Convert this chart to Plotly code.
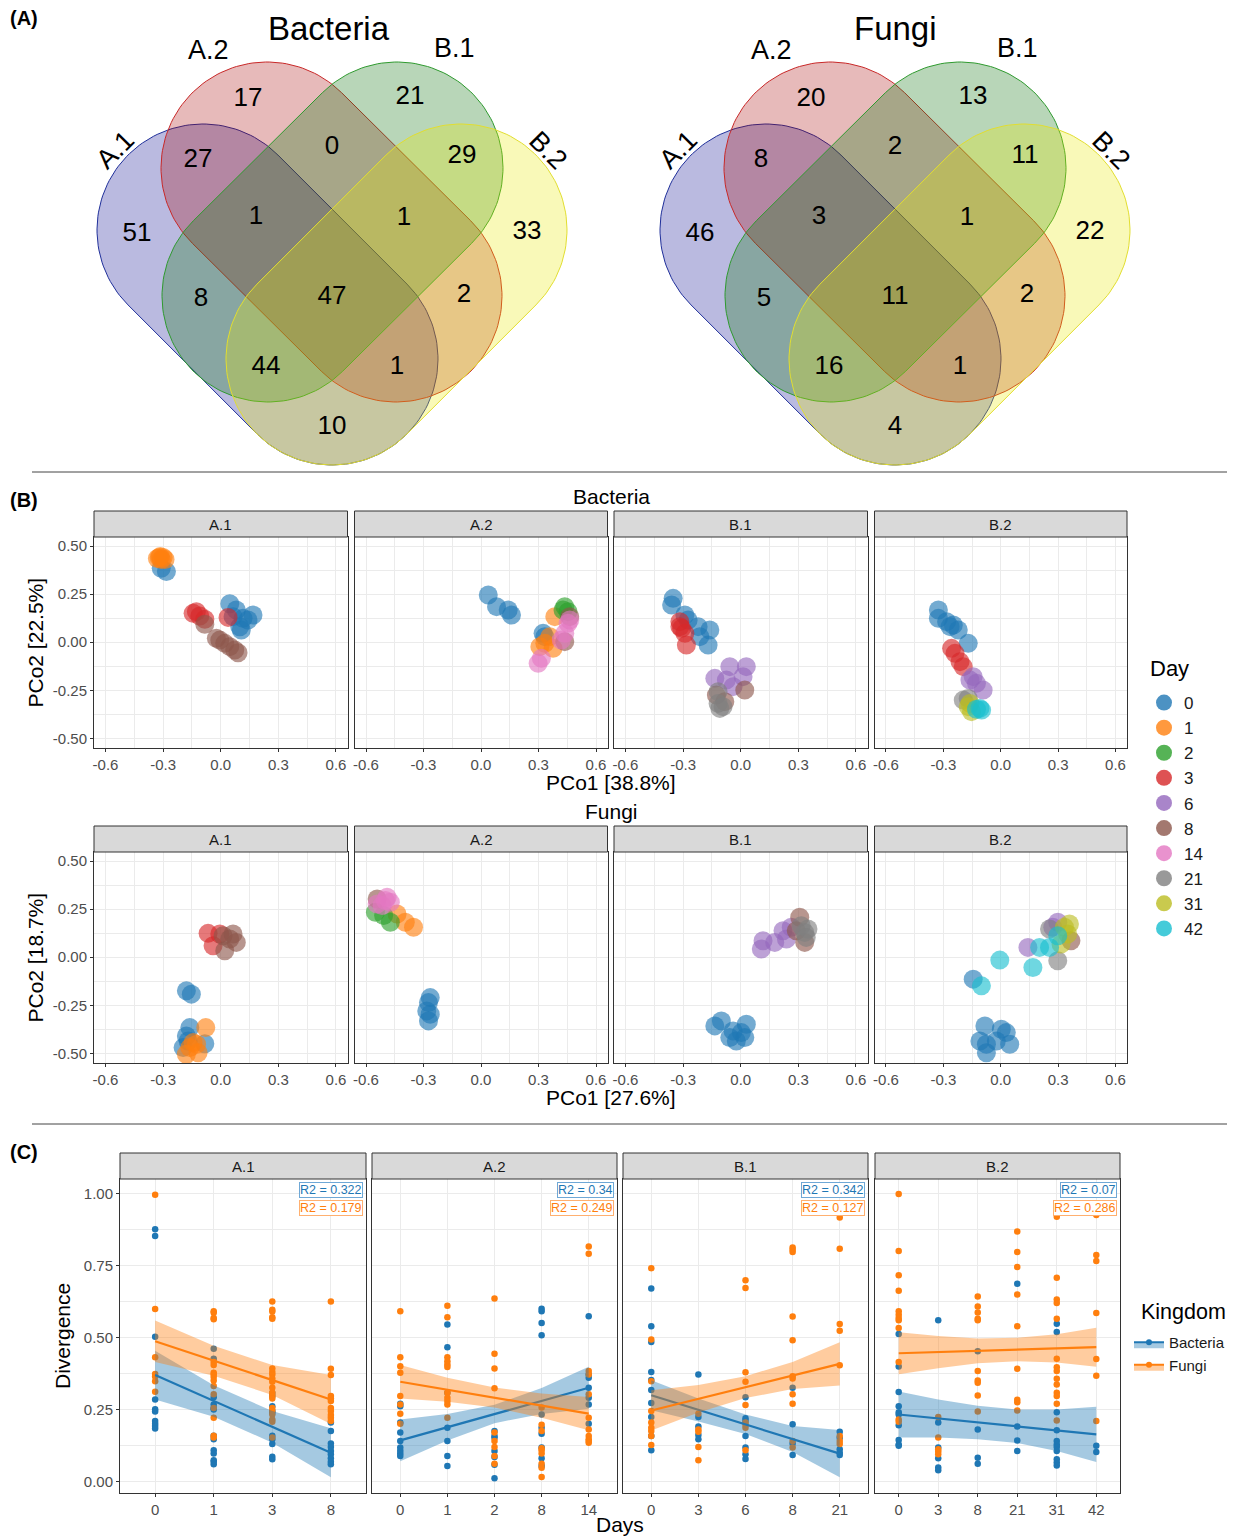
import numpy as np
import plotly.graph_objects as go

W, H = 1242, 1537
FONT = "Liberation Sans, Arial, sans-serif"

# ======================= DATA =======================
# ---- (A) Venn counts ----
venn_regions = ["A.2", "B.1", "A.1&A.2", "A.2&B.1", "B.1&B.2", "A.1", "A.1&A.2&B.1",
                "A.2&B.1&B.2", "B.2", "A.1&B.1", "A.1&A.2&B.1&B.2", "A.2&B.2",
                "A.1&B.1&B.2", "A.1&A.2&B.2", "A.1&B.2"]
venn_bacteria = [17, 21, 27, 0, 29, 51, 1, 1, 33, 8, 47, 2, 44, 1, 10]
venn_fungi = [20, 13, 8, 2, 11, 46, 3, 1, 22, 5, 11, 2, 16, 1, 4]
venn_sets = ["A.1", "A.2", "B.1", "B.2"]

# ---- (B) PCoA ----
sites = ["A.1", "A.2", "B.1", "B.2"]
day_levels = [0, 1, 2, 3, 6, 8, 14, 21, 31, 42]
pco_xticks = [-0.6, -0.3, 0.0, 0.3, 0.6]
pco_xtick_text = ["-0.6", "-0.3", "0.0", "0.3", "0.6"]
pco_yticks = [-0.5, -0.25, 0.0, 0.25, 0.5]
pco_ytick_text = ["-0.50", "-0.25", "0.00", "0.25", "0.50"]
bac_axis_labels = ["PCo1 [38.8%]", "PCo2 [22.5%]"]
fun_axis_labels = ["PCo1 [27.6%]", "PCo2 [18.7%]"]

bac_A1 = {0: ([-0.31, -0.283, 0.047, 0.081, 0.168, 0.116, 0.099, 0.107, 0.064, 0.142],
              [0.384, 0.367, 0.20, 0.167, 0.141, 0.124, 0.08, 0.063, 0.133, 0.115]),
          1: ([-0.32, -0.30, -0.33, -0.31, -0.29, -0.315], [0.44, 0.44, 0.435, 0.43, 0.43, 0.445]),
          3: ([-0.127, -0.109, -0.083, 0.038, -0.144], [0.159, 0.136, 0.119, 0.129, 0.15]),
          8: ([-0.083, -0.005, 0.021, 0.047, 0.073, 0.09, -0.023],
              [0.093, 0.011, -0.006, -0.023, -0.041, -0.055, 0.02])}
bac_A2 = {0: ([0.038, 0.081, 0.142, 0.159, 0.333, 0.324], [0.245, 0.185, 0.167, 0.141, 0.029, 0.046]),
          1: ([0.385, 0.359, 0.307, 0.333, 0.376], [0.133, 0.029, -0.023, -0.006, -0.032]),
          2: ([0.437, 0.454, 0.428], [0.185, 0.159, 0.167]),
          8: ([0.463, 0.437], [0.133, 0.003]),
          14: ([0.454, 0.437, 0.419, 0.315, 0.298, 0.463], [0.098, 0.046, 0.011, -0.084, -0.11, 0.115])}
bac_B1 = {0: ([-0.352, -0.36, -0.291, -0.222, -0.161, -0.17, -0.213, -0.274],
              [0.228, 0.193, 0.141, 0.081, 0.063, -0.015, 0.029, 0.115]),
          3: ([-0.317, -0.308, -0.291, -0.283, -0.317], [0.107, 0.072, 0.046, -0.015, 0.081]),
          6: ([-0.135, -0.057, 0.029, 0.012, -0.075, -0.04], [-0.188, -0.127, -0.127, -0.179, -0.197, -0.231]),
          8: ([0.021, -0.127, -0.083], [-0.249, -0.275, -0.309]),
          21: ([-0.118, -0.118, -0.109, -0.092], [-0.257, -0.318, -0.344, -0.335])}
bac_B2 = {0: ([-0.326, -0.326, -0.283, -0.248, -0.222, -0.17, -0.265],
              [0.167, 0.124, 0.107, 0.089, 0.063, -0.006, 0.081]),
          3: ([-0.257, -0.239, -0.213, -0.196], [-0.032, -0.058, -0.101, -0.127]),
          6: ([-0.144, -0.127, -0.092, -0.161], [-0.179, -0.214, -0.249, -0.197]),
          21: ([-0.196, -0.17], [-0.301, -0.292]),
          31: ([-0.161, -0.153, -0.17], [-0.318, -0.361, -0.335]),
          42: ([-0.109, -0.1, -0.127], [-0.344, -0.353, -0.349])}
fun_A1 = {0: ([-0.179, -0.153, -0.161, -0.179, -0.196, -0.083, -0.17],
              [-0.175, -0.192, -0.366, -0.41, -0.47, -0.45, -0.436]),
          1: ([-0.078, -0.144, -0.126, -0.179, -0.118, -0.161], [-0.366, -0.444, -0.453, -0.505, -0.497, -0.47]),
          3: ([-0.066, -0.04, -0.005], [0.124, 0.06, 0.121]),
          8: ([0.012, 0.047, 0.064, 0.021, 0.081], [0.112, 0.095, 0.121, 0.034, 0.077])}
fun_A2 = {0: ([-0.274, -0.283, -0.265, -0.274, -0.265], [-0.236, -0.279, -0.297, -0.331, -0.21]),
          1: ([-0.438, -0.395, -0.352], [0.225, 0.182, 0.156]),
          2: ([-0.551, -0.508, -0.473], [0.234, 0.217, 0.182]),
          8: ([-0.542], [0.303]),
          14: ([-0.542, -0.499, -0.473, -0.516, -0.49], [0.277, 0.295, 0.286, 0.269, 0.312])}
fun_B1 = {0: ([-0.101, -0.135, -0.057, -0.023, 0.021, 0.029, 0.003, -0.04],
              [-0.331, -0.357, -0.418, -0.436, -0.418, -0.349, -0.392, -0.383]),
          6: ([0.107, 0.116, 0.177, 0.22, 0.238, 0.263], [0.043, 0.086, 0.077, 0.138, 0.095, 0.156]),
          8: ([0.307, 0.333, 0.289], [0.208, 0.077, 0.138]),
          21: ([0.333, 0.35, 0.315, 0.341], [0.129, 0.147, 0.164, 0.103])}
fun_B2 = {0: ([-0.144, -0.083, 0.003, 0.029, -0.075, -0.109, -0.023, 0.047, -0.075],
              [-0.114, -0.357, -0.375, -0.392, -0.453, -0.436, -0.436, -0.453, -0.497]),
          6: ([0.142, 0.272, 0.298], [0.051, 0.156, 0.182]),
          8: ([0.367], [0.086]),
          21: ([0.298, 0.255], [-0.018, 0.147]),
          31: ([0.333, 0.35, 0.315, 0.359], [0.156, 0.121, 0.069, 0.173]),
          42: ([-0.101, -0.005, 0.168, 0.203, 0.255, 0.298], [-0.149, -0.015, -0.053, 0.051, 0.051, 0.112])}

# ---- (C) Divergence ----
div_cats_A1 = ["0", "1", "3", "8"]
div_cats_A2 = ["0", "1", "2", "8", "14"]
div_cats_B1 = ["0", "3", "6", "8", "21"]
div_cats_B2 = ["0", "3", "8", "21", "31", "42"]
div_yticks = [0.0, 0.25, 0.5, 0.75, 1.0]
div_ytick_text = ["0.00", "0.25", "0.50", "0.75", "1.00"]

divA1_bac = {"0": [0.877, 0.854, 0.503, 0.285, 0.251, 0.243, 0.21, 0.201, 0.193, 0.184],
             "1": [0.462, 0.427, 0.293, 0.268, 0.256, 0.25, 0.159, 0.147, 0.109, 0.097, 0.074, 0.069, 0.06],
             "3": [0.308, 0.297, 0.262, 0.245, 0.239, 0.159, 0.147, 0.13, 0.086, 0.077],
             "8": [0.205, 0.176, 0.132, 0.12, 0.106, 0.095, 0.081, 0.069, 0.06]}
divA1_fun = {"0": [0.997, 0.6, 0.432, 0.374, 0.365, 0.349, 0.312],
             "1": [0.592, 0.587, 0.569, 0.564, 0.416, 0.405, 0.378, 0.372, 0.363, 0.351, 0.332, 0.303,
                   0.256, 0.222, 0.159, 0.153],
             "3": [0.626, 0.597, 0.591, 0.571, 0.566, 0.393, 0.381, 0.372, 0.358, 0.347, 0.326, 0.309,
                   0.297, 0.289, 0.256, 0.245, 0.233, 0.216, 0.208, 0.153],
             "8": [0.626, 0.392, 0.37, 0.297, 0.289, 0.28, 0.256, 0.245, 0.231, 0.222, 0.21]}
divA2_bac = {"0": [0.27, 0.262, 0.205, 0.17, 0.141, 0.118, 0.107, 0.097, 0.089],
             "1": [0.546, 0.467, 0.309, 0.187, 0.141, 0.089, 0.054],
             "2": [0.176, 0.158, 0.152, 0.106, 0.085, 0.058, 0.011],
             "8": [0.601, 0.592, 0.551, 0.509, 0.233, 0.187, 0.166, 0.118, 0.081, 0.054],
             "14": [0.575, 0.372, 0.361, 0.326, 0.291, 0.268, 0.201]}
divA2_fun = {"0": [0.592, 0.432, 0.401, 0.378, 0.297, 0.268, 0.236, 0.201],
             "1": [0.611, 0.571, 0.432, 0.418, 0.407, 0.398, 0.309, 0.291, 0.28, 0.268, 0.222],
             "2": [0.636, 0.444, 0.393, 0.324, 0.17, 0.141, 0.12, 0.089, 0.062],
             "8": [0.257, 0.197, 0.176, 0.116, 0.109, 0.097, 0.062, 0.048, 0.016],
             "14": [0.817, 0.792, 0.384, 0.372, 0.303, 0.222, 0.181, 0.158, 0.147, 0.141, 0.135]}
divB1_bac = {"0": [0.671, 0.54, 0.485, 0.381, 0.353, 0.318, 0.273, 0.224, 0.158, 0.109],
             "3": [0.372, 0.224, 0.191, 0.162, 0.147],
             "6": [0.293, 0.22, 0.211, 0.158, 0.118, 0.095, 0.078],
             "8": [0.326, 0.199, 0.132, 0.092],
             "21": [0.173, 0.152, 0.112, 0.1, 0.092]}
divB1_fun = {"0": [0.742, 0.494, 0.349, 0.245, 0.205, 0.187, 0.176, 0.158, 0.127],
             "3": [0.236, 0.181, 0.173, 0.12, 0.074],
             "6": [0.7, 0.673, 0.38, 0.347, 0.266, 0.205, 0.197, 0.187, 0.109],
             "8": [0.814, 0.806, 0.798, 0.574, 0.491, 0.366, 0.358, 0.303, 0.27, 0.141, 0.118],
             "21": [0.918, 0.809, 0.548, 0.524, 0.404, 0.158, 0.141, 0.13]}
divB2_bac = {"0": [0.513, 0.4, 0.311, 0.262, 0.241, 0.233, 0.196, 0.144, 0.129, 0.124],
             "3": [0.561, 0.205, 0.118, 0.081, 0.049, 0.039],
             "8": [0.453, 0.181, 0.083, 0.062],
             "21": [0.688, 0.191, 0.143, 0.106],
             "31": [0.549, 0.52, 0.241, 0.178, 0.141, 0.129, 0.12, 0.106, 0.077, 0.066, 0.056],
             "42": [0.124, 0.103]}
divB2_fun = {"0": [1.0, 0.802, 0.717, 0.663, 0.592, 0.58, 0.569, 0.561, 0.534, 0.416, 0.216, 0.208],
             "3": [0.224, 0.153, 0.112, 0.104, 0.095],
             "8": [0.643, 0.609, 0.588, 0.566, 0.561, 0.384, 0.351, 0.343, 0.299, 0.243],
             "21": [0.869, 0.798, 0.746, 0.65, 0.54, 0.392, 0.284, 0.276, 0.247],
             "31": [0.921, 0.709, 0.633, 0.621, 0.566, 0.427, 0.397, 0.384, 0.357, 0.337, 0.309, 0.297,
                    0.27, 0.212],
             "42": [0.927, 0.788, 0.767, 0.586, 0.426, 0.368, 0.21]}

# fitted lines (value at first and last day) and confidence band per day
line_bac = [(0.37, 0.10), (0.143, 0.326), (0.30, 0.097), (0.233, 0.164)]
line_fun = [(0.488, 0.285), (0.347, 0.236), (0.247, 0.409), (0.446, 0.467)]
band_bac_hi = [[0.455, 0.335, 0.245, 0.185], [0.216, 0.235, 0.267, 0.325, 0.399],
               [0.352, 0.289, 0.233, 0.193, 0.179], [0.313, 0.285, 0.263, 0.25, 0.25, 0.26]]
band_bac_lo = [[0.285, 0.225, 0.135, 0.015], [0.07, 0.143, 0.203, 0.235, 0.253],
               [0.248, 0.209, 0.165, 0.103, 0.015], [0.153, 0.153, 0.147, 0.134, 0.106, 0.068]]
band_fun_hi = [[0.56, 0.472, 0.405, 0.37], [0.405, 0.361, 0.327, 0.306, 0.294],
               [0.317, 0.336, 0.366, 0.416, 0.484], [0.519, 0.506, 0.497, 0.5, 0.512, 0.535]]
band_fun_lo = [[0.416, 0.368, 0.301, 0.2], [0.289, 0.277, 0.257, 0.222, 0.178],
               [0.177, 0.24, 0.29, 0.322, 0.334], [0.373, 0.394, 0.411, 0.418, 0.414, 0.399]]
r2_bac = ["0.322", "0.34", "0.342", "0.07"]
r2_fun = ["0.179", "0.249", "0.127", "0.286"]

# ======================= STYLE / LAYOUT =======================
day_colors = ["#1f77b4", "#ff7f0e", "#2ca02c", "#d62728", "#9467bd",
              "#8c564b", "#e377c2", "#7f7f7f", "#bcbd22", "#17becf"]
BLUE, ORANGE = "#1f77b4", "#ff7f0e"
BLUE_F, ORANGE_F = "rgba(31,119,180,0.4)", "rgba(255,127,14,0.4)"
GRID = "#EBEBEB"
BORDER = "#333333"
TICKC = "#4D4D4D"
TICK_FS = 15
TITLE_FS = 21

fig = go.Figure()
annotations = []
shapes = []
layout = dict(width=W, height=H, margin=dict(l=0, r=0, t=0, b=0),
              paper_bgcolor="white", plot_bgcolor="white",
              font=dict(family=FONT, color="black"), showlegend=True)


def px(x):
    return x / W


def py(y):
    return 1 - y / H


def ann(text, x, y, size, color="black", xanchor="center", yanchor="middle", **kw):
    d = dict(text=text, x=px(x), y=py(y), xref="paper", yref="paper", showarrow=False,
             font=dict(size=size, family=FONT, color=color), xanchor=xanchor, yanchor=yanchor)
    d.update(kw)
    annotations.append(d)


# ---------------- (A) Venn ----------------
VENN_H = 475
layout["xaxis"] = dict(domain=[0, 1], range=[0, W], visible=False, fixedrange=True)
layout["yaxis"] = dict(domain=[1 - VENN_H / H, 1], range=[VENN_H, 0], visible=False, fixedrange=True)

venn_centers = {"Bacteria": 332, "Fungi": 895}
stadium_caps = {"A.1": ((-129, 230), (0, 359)), "A.2": ((-65, 168), (64, 296)),
                "B.1": ((65, 168), (-64, 296)), "B.2": ((129, 230), (0, 359))}
CAP_R = 106
venn_fill = {"A.1": "rgba(0,0,140,0.27)", "A.2": "rgba(165,0,0,0.27)",
             "B.1": "rgba(20,120,20,0.30)", "B.2": "rgba(232,232,0,0.28)"}
venn_line = {"A.1": "#1f2f9a", "A.2": "#c82828", "B.1": "#2f9a2f", "B.2": "#e2de30"}
region_offsets = {"A.2": (-84, 99), "B.1": (78, 97), "A.1&A.2": (-134, 160), "A.2&B.1": (0, 147),
                  "B.1&B.2": (130, 156), "A.1": (-195, 234), "A.1&A.2&B.1": (-76, 217),
                  "A.2&B.1&B.2": (72, 218), "B.2": (195, 232), "A.1&B.1": (-131, 299),
                  "A.1&A.2&B.1&B.2": (0, 297), "A.2&B.2": (132, 295), "A.1&B.1&B.2": (-66, 367),
                  "A.1&A.2&B.2": (65, 367), "A.1&B.2": (0, 427)}
set_label_pos = {"A.1": (-217, 150, -45), "A.2": (-124, 50, 0), "B.1": (122, 48, 0), "B.2": (216, 150, 45)}


def stadium(p1, p2, r, n=80):
    p1 = np.array(p1, float)
    p2 = np.array(p2, float)
    d = p2 - p1
    th = np.arctan2(d[1], d[0])
    a1 = np.linspace(th - np.pi / 2, th + np.pi / 2, n)
    a2 = np.linspace(th + np.pi / 2, th + 3 * np.pi / 2, n)
    xs = np.concatenate([p2[0] + r * np.cos(a1), p1[0] + r * np.cos(a2), [p2[0] + r * np.cos(a1[0])]])
    ys = np.concatenate([p2[1] + r * np.sin(a1), p1[1] + r * np.sin(a2), [p2[1] + r * np.sin(a1[0])]])
    return xs, ys


for title, counts in [("Bacteria", venn_bacteria), ("Fungi", venn_fungi)]:
    cx = venn_centers[title]
    for s in venn_sets:
        (ax_, ay_), (bx_, by_) = stadium_caps[s]
        xs, ys = stadium((cx + ax_, ay_), (cx + bx_, by_), CAP_R)
        fig.add_trace(go.Scatter(x=xs, y=ys, mode="lines", fill="toself", fillcolor=venn_fill[s],
                                 line=dict(color=venn_line[s], width=1), hoverinfo="skip",
                                 showlegend=False, xaxis="x", yaxis="y"))
    fig.add_trace(go.Scatter(
        x=[cx + region_offsets[r][0] for r in venn_regions],
        y=[region_offsets[r][1] for r in venn_regions],
        text=[str(c) for c in counts], mode="text",
        textfont=dict(size=26, family=FONT, color="black"),
        showlegend=False, hoverinfo="skip", xaxis="x", yaxis="y"))
    for s in venn_sets:
        ox, oy, ang = set_label_pos[s]
        annotations.append(dict(text=s, x=cx + ox, y=oy, xref="x", yref="y", showarrow=False,
                                textangle=ang, font=dict(size=27, family=FONT, color="black")))
    annotations.append(dict(text=title, x=cx - 3 if title == "Bacteria" else cx, y=28, xref="x", yref="y",
                            showarrow=False, font=dict(size=33, family=FONT, color="black")))

# panel labels & separators
ann("<b>(A)</b>", 8, 18, 20, xanchor="left")
ann("<b>(B)</b>", 8, 500, 20, xanchor="left")
ann("<b>(C)</b>", 8, 1152, 20, xanchor="left")
for yy in (472, 1124):
    shapes.append(dict(type="line", xref="paper", yref="paper", x0=px(32), x1=px(1227),
                       y0=py(yy), y1=py(yy), line=dict(color="#444444", width=1)))

# ---------------- (B) PCoA ----------------
facet_px_B = [(94, 347.5), (354.5, 607.5), (614, 867.5), (874.5, 1127)]
rows_B = [("Bacteria", 537, 748, 511, [bac_A1, bac_A2, bac_B1, bac_B2], bac_axis_labels, 497, 782),
          ("Fungi", 852, 1063, 826, [fun_A1, fun_A2, fun_B1, fun_B2], fun_axis_labels, 811, 1097)]

axn = 2
# legend entries for Day
for d, c in zip(day_levels, day_colors):
    fig.add_trace(go.Scatter(x=[None], y=[None], mode="markers", name=str(d),
                             marker=dict(size=18, color=c, opacity=0.8), legend="legend",
                             xaxis="x2", yaxis="y2", showlegend=True))


def strip(x0, x1, y0, y1, text):
    shapes.append(dict(type="rect", xref="paper", yref="paper", x0=px(x0), x1=px(x1),
                       y0=py(y1), y1=py(y0), fillcolor="#D9D9D9", line=dict(color=BORDER, width=1),
                       layer="above"))
    ann(text, (x0 + x1) / 2, (y0 + y1) / 2 + 0.5, TICK_FS, color="#1A1A1A")


for kingdom, ytop, ybot, stop, facets, labels, ttl_y, xlab_y in rows_B:
    ann(kingdom, 611, ttl_y, TITLE_FS)
    ann(labels[0], 611, xlab_y, TITLE_FS)
    ann(labels[1], 35, (ytop + ybot) / 2, TITLE_FS, textangle=-90)
    for i, (site, (x0, x1), data) in enumerate(zip(sites, facet_px_B, facets)):
        layout[f"xaxis{axn}"] = dict(
            domain=[px(x0), px(x1)], range=[-0.66, 0.66], anchor=f"y{axn}",
            tickvals=pco_xticks, ticktext=pco_xtick_text, showgrid=True, gridcolor=GRID, gridwidth=1,
            minor=dict(tickvals=[-0.45, -0.15, 0.15, 0.45], showgrid=True, gridcolor=GRID, gridwidth=0.5, ticks=""),
            zeroline=False, showline=True, mirror=True, linecolor=BORDER, linewidth=1,
            ticks="outside", ticklen=3, tickcolor=BORDER, tickfont=dict(size=TICK_FS, color=TICKC, family=FONT),
            fixedrange=True)
        layout[f"yaxis{axn}"] = dict(
            domain=[py(ybot), py(ytop)], range=[-0.55, 0.547], anchor=f"x{axn}",
            tickvals=pco_yticks, ticktext=pco_ytick_text, showgrid=True, gridcolor=GRID, gridwidth=1,
            minor=dict(tickvals=[-0.375, -0.125, 0.125, 0.375], showgrid=True, gridcolor=GRID, gridwidth=0.5, ticks=""),
            zeroline=False, showline=True, mirror=True, linecolor=BORDER, linewidth=1,
            ticks="outside" if i == 0 else "", ticklen=3, tickcolor=BORDER, showticklabels=(i == 0),
            tickfont=dict(size=TICK_FS, color=TICKC, family=FONT), fixedrange=True)
        strip(x0, x1, stop, ytop, site)
        for d, c in zip(day_levels, day_colors):
            if d not in data:
                continue
            xs, ys = data[d]
            fig.add_trace(go.Scatter(x=xs, y=ys, mode="markers", name=str(d), legendgroup=str(d),
                                     marker=dict(size=19, color=c, opacity=0.62, line=dict(width=0)),
                                     showlegend=False, xaxis=f"x{axn}", yaxis=f"y{axn}"))
        axn += 1

# ---------------- (C) Divergence ----------------
facet_px_C = [(120, 366), (372, 617), (623, 868), (875, 1120)]
C_top, C_bot, C_strip = 1179, 1493, 1153
div_cats = [div_cats_A1, div_cats_A2, div_cats_B1, div_cats_B2]
div_bac = [divA1_bac, divA2_bac, divB1_bac, divB2_bac]
div_fun = [divA1_fun, divA2_fun, divB1_fun, divB2_fun]

first_c = axn
for i, site in enumerate(sites):
    x0, x1 = facet_px_C[i]
    cats = div_cats[i]
    n = len(cats)
    idx = {c: k + 1 for k, c in enumerate(cats)}
    layout[f"xaxis{axn}"] = dict(
        domain=[px(x0), px(x1)], range=[0.4, n + 0.6], anchor=f"y{axn}",
        tickvals=list(range(1, n + 1)), ticktext=cats, showgrid=True, gridcolor=GRID, gridwidth=1,
        zeroline=False, showline=True, mirror=True, linecolor=BORDER, linewidth=1,
        ticks="outside", ticklen=3, tickcolor=BORDER, tickfont=dict(size=TICK_FS, color=TICKC, family=FONT),
        fixedrange=True)
    layout[f"yaxis{axn}"] = dict(
        domain=[py(C_bot), py(C_top)], range=[-0.04, 1.052], anchor=f"x{axn}",
        tickvals=div_yticks, ticktext=div_ytick_text, showgrid=True, gridcolor=GRID, gridwidth=1,
        minor=dict(tickvals=[0.125, 0.375, 0.625, 0.875], showgrid=True, gridcolor=GRID, gridwidth=0.5, ticks=""),
        zeroline=False, showline=True, mirror=True, linecolor=BORDER, linewidth=1,
        ticks="outside" if i == 0 else "", ticklen=3, tickcolor=BORDER, showticklabels=(i == 0),
        tickfont=dict(size=TICK_FS, color=TICKC, family=FONT), fixedrange=True)
    strip(x0, x1, C_strip, C_top, site)
    xa, ya = f"x{axn}", f"y{axn}"
    for data, col in [(div_bac[i], BLUE), (div_fun[i], ORANGE)]:
        xs, ys = [], []
        for c in cats:
            for v in data.get(c, []):
                xs.append(idx[c])
                ys.append(v)
        fig.add_trace(go.Scatter(x=xs, y=ys, mode="markers", marker=dict(size=6.5, color=col),
                                 showlegend=False, xaxis=xa, yaxis=ya))
    xi = list(range(1, n + 1))
    for hi, lo, ln, col, fcol in [(band_bac_hi[i], band_bac_lo[i], line_bac[i], BLUE, BLUE_F),
                                  (band_fun_hi[i], band_fun_lo[i], line_fun[i], ORANGE, ORANGE_F)]:
        fig.add_trace(go.Scatter(x=xi + xi[::-1], y=hi + lo[::-1], mode="lines", fill="toself",
                                 fillcolor=fcol, line=dict(width=0), showlegend=False,
                                 hoverinfo="skip", xaxis=xa, yaxis=ya))
        fig.add_trace(go.Scatter(x=[1, n], y=list(ln), mode="lines", line=dict(color=col, width=2.2),
                                 showlegend=False, xaxis=xa, yaxis=ya))
    # R2 labels
    ann(f"R2 = {r2_bac[i]}", x1 - 3, 1190, 12.5, color=BLUE, xanchor="right",
        bordercolor="#6fa8d6", borderwidth=1, borderpad=0, bgcolor="white")
    ann(f"R2 = {r2_fun[i]}", x1 - 3, 1207.5, 12.5, color=ORANGE, xanchor="right",
        bordercolor="#ffb070", borderwidth=1, borderpad=0, bgcolor="white")
    axn += 1

ann("Divergence", 62, (C_top + C_bot) / 2, TITLE_FS, textangle=-90)
ann("Days", 620, 1524, TITLE_FS)

# Kingdom legend entries
for nm, col, fcol in [("Bacteria", BLUE, BLUE_F), ("Fungi", ORANGE, ORANGE_F)]:
    fig.add_trace(go.Scatter(x=[None], y=[None], mode="lines+markers", name=nm, fill="toself",
                             fillcolor=fcol, line=dict(color=col, width=2), marker=dict(size=6, color=col),
                             legend="legend2", xaxis=f"x{first_c}", yaxis=f"y{first_c}", showlegend=True))

# legend titles as text
ann("Day", 1148, 668, 22, xanchor="left")
ann("Kingdom", 1139, 1312, 21.5, xanchor="left")

layout["legend"] = dict(x=px(1144), y=py(685), xanchor="left", yanchor="top",
                        font=dict(size=17, family=FONT, color="#1A1A1A"), bgcolor="rgba(0,0,0,0)",
                        itemclick=False, itemdoubleclick=False)
layout["legend2"] = dict(x=px(1129), y=py(1326), xanchor="left", yanchor="top",
                         font=dict(size=15, family=FONT, color="#1A1A1A"), bgcolor="rgba(0,0,0,0)",
                         itemclick=False, itemdoubleclick=False)
layout["annotations"] = annotations
layout["shapes"] = shapes
fig.update_layout(**layout)

fig.write_html("out.html", include_plotlyjs=True,
               config={"displayModeBar": False},
               post_script="document.body.style.margin='0';document.body.style.overflow='hidden';")
